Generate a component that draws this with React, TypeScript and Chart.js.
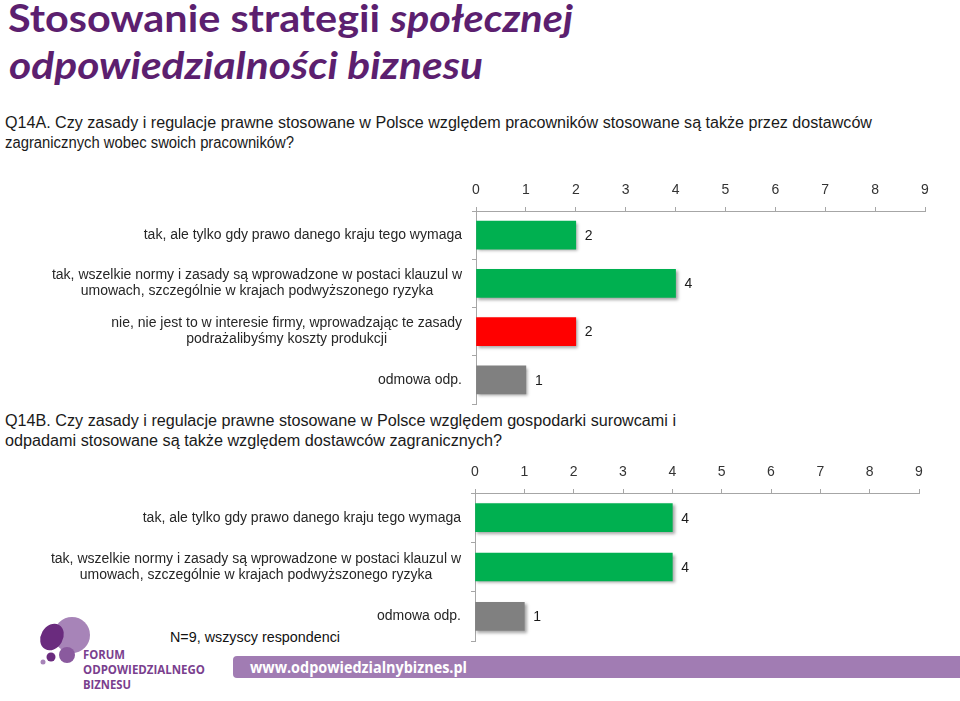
import React, { useEffect, useRef } from "react";
import { Chart, registerables } from "chart.js";

Chart.register(...registerables);

const categoriesA: string[][] = [
  ["tak, ale tylko gdy prawo danego kraju tego wymaga"],
  ["tak, wszelkie normy i zasady są wprowadzone w postaci klauzul w", "umowach, szczególnie w krajach podwyższonego ryzyka"],
  ["nie, nie jest to w interesie firmy, wprowadzając te zasady", "podrażalibyśmy koszty produkcji"],
  ["odmowa odp."],
];
const valuesA = [2, 4, 2, 1];
const colorsA = ["#00B050", "#00B050", "#FF0000", "#808080"];

const categoriesB: string[][] = [
  ["tak, ale tylko gdy prawo danego kraju tego wymaga"],
  ["tak, wszelkie normy i zasady są wprowadzone w postaci klauzul w", "umowach, szczególnie w krajach podwyższonego ryzyka"],
  ["odmowa odp."],
];
const valuesB = [4, 4, 1];
const colorsB = ["#00B050", "#00B050", "#808080"];

const axisMin = 0;
const axisMax = 9;

const FONT = '"Liberation Sans", Arial, sans-serif';
const AXIS_COLOR = "#A6A6A6";

const shadowPlugin = {
  id: "barShadow",
  beforeDatasetsDraw(chart: any) {
    const ctx = chart.ctx;
    ctx.save();
    ctx.shadowColor = "rgba(0,0,0,0.35)";
    ctx.shadowOffsetX = 2;
    ctx.shadowOffsetY = 2;
    ctx.shadowBlur = 3;
  },
  afterDatasetsDraw(chart: any) {
    chart.ctx.restore();
  },
};

const labelPlugin = {
  id: "sideLabels",
  afterDraw(chart: any) {
    const opts = chart.options.plugins.sideLabels || {};
    const ctx = chart.ctx;
    const yScale = chart.scales.y;
    ctx.save();
    ctx.font = `14px ${FONT}`;
    ctx.fillStyle = "#262626";
    ctx.textBaseline = "middle";
    ctx.textAlign = "center";
    (chart.data.labels as any[]).forEach((lab, i) => {
      const lines: string[] = Array.isArray(lab) ? lab : [lab];
      const w = Math.max(...lines.map((l) => ctx.measureText(l).width));
      const cx = opts.right - w / 2;
      const cy = yScale.getPixelForValue(i);
      const lh = 16;
      lines.forEach((l, j) => ctx.fillText(l, cx, cy + (j - (lines.length - 1) / 2) * lh));
    });
    const meta = chart.getDatasetMeta(0);
    ctx.font = `14px ${FONT}`;
    ctx.textAlign = "left";
    ctx.fillStyle = "#1a1a1a";
    meta.data.forEach((bar: any, i: number) => {
      ctx.fillText(String(chart.data.datasets[0].data[i]), bar.x + 9, bar.y + 1);
    });
    ctx.restore();
  },
};

type BarProps = {
  labels: string[][];
  values: number[];
  colors: string[];
  top: number;
  height: number;
  axisTop: number;
  axisLeft: number;
  padRight: number;
  padBottom: number;
  labelRight: number;
};

function BarChart(p: BarProps) {
  const ref = useRef<HTMLCanvasElement | null>(null);
  useEffect(() => {
    if (!ref.current) return;
    const chart = new Chart(ref.current, {
      type: "bar",
      data: {
        labels: p.labels,
        datasets: [
          {
            data: p.values,
            backgroundColor: p.colors,
            borderWidth: 0,
            barThickness: 28,
          },
        ],
      },
      options: {
        indexAxis: "y",
        responsive: false,
        animation: false,
        layout: { padding: { left: 0, right: p.padRight, top: 0, bottom: p.padBottom } },
        plugins: {
          legend: { display: false },
          tooltip: { enabled: false },
          sideLabels: { right: p.labelRight },
        } as any,
        scales: {
          x: {
            position: "top",
            min: axisMin,
            max: axisMax,
            ticks: { stepSize: 1, font: { family: FONT, size: 14 }, color: "#333333", padding: 8 },
            grid: { drawOnChartArea: false, tickLength: 4, color: AXIS_COLOR },
            border: { color: AXIS_COLOR },
            afterFit: (s: any) => {
              s.height = p.axisTop;
            },
          },
          y: {
            ticks: { display: false },
            grid: { drawOnChartArea: false, tickLength: 4, color: AXIS_COLOR, offset: true },
            border: { color: AXIS_COLOR },
            afterFit: (s: any) => {
              s.width = p.axisLeft;
            },
          },
        },
      },
      plugins: [shadowPlugin, labelPlugin],
    });
    return () => chart.destroy();
  }, []);
  return (
    <canvas
      ref={ref}
      width={960}
      height={p.height}
      style={{ position: "absolute", left: 0, top: p.top, width: 960, height: p.height }}
    />
  );
}

export default function App() {
  return (
    <div style={{ position: "absolute", left: 0, top: 0, width: 960, height: 701, background: "#ffffff", overflow: "hidden" }}>
      <svg width={960} height={701} style={{ position: "absolute", left: 0, top: 0 }}>
        <text x={8} y={32} fontFamily="Lato, 'Open Sans', sans-serif" fontWeight={700} fontSize={38} fill="#5C1F6F" textLength={565} lengthAdjust="spacingAndGlyphs">
          Stosowanie strategii <tspan fontStyle="italic">społecznej</tspan>
        </text>
        <text x={9} y={79} fontFamily="Lato, 'Open Sans', sans-serif" fontWeight={700} fontStyle="italic" fontSize={38} fill="#5C1F6F" textLength={474} lengthAdjust="spacingAndGlyphs">
          odpowiedzialności biznesu
        </text>
        <g fontFamily="'Liberation Sans', Arial, sans-serif" fontSize={16} fill="#1a1a1a">
          <text x={5} y={128} textLength={867} lengthAdjust="spacingAndGlyphs">
            Q14A. Czy zasady i regulacje prawne stosowane w Polsce względem pracowników stosowane są także przez dostawców
          </text>
          <text x={5} y={148} textLength={289} lengthAdjust="spacingAndGlyphs">
            zagranicznych wobec swoich pracowników?
          </text>
          <text x={5} y={426} textLength={671} lengthAdjust="spacingAndGlyphs">
            Q14B. Czy zasady i regulacje prawne stosowane w Polsce względem gospodarki surowcami i
          </text>
          <text x={5} y={446} textLength={497} lengthAdjust="spacingAndGlyphs">
            odpadami stosowane są także względem dostawców zagranicznych?
          </text>
        </g>
        <text x={170} y={642} fontFamily="'Liberation Sans', Arial, sans-serif" fontSize={14} fill="#111" textLength={170} lengthAdjust="spacingAndGlyphs">
          N=9, wszyscy respondenci
        </text>
        <rect x={233} y={656} width={740} height={22} rx={4} fill="#A17CB3" />
        <text x={250} y={673} fontFamily="'Open Sans', sans-serif" fontWeight={700} fontSize={16} fill="#ffffff" textLength={217} lengthAdjust="spacingAndGlyphs">
          www.odpowiedzialnybiznes.pl
        </text>
        <g>
          <circle cx={72} cy={635} r={18} fill="#A784B8" />
          <ellipse cx={52} cy={637} rx={11} ry={14} transform="rotate(30 52 637)" fill="#6A2B7E" />
          <circle cx={67} cy={655} r={8} fill="#8A5A9E" />
          <circle cx={51} cy={657} r={4.5} fill="#6A2B7E" />
          <circle cx={43} cy={662} r={2.5} fill="#A784B8" />
        </g>
        <g fontFamily="'Open Sans', sans-serif" fontWeight={700} fontSize={13} fill="#7A3F8E">
          <text x={83} y={659} textLength={42} lengthAdjust="spacingAndGlyphs">FORUM</text>
          <text x={83} y={674} textLength={122} lengthAdjust="spacingAndGlyphs">ODPOWIEDZIALNEGO</text>
          <text x={83} y={689} textLength={48} lengthAdjust="spacingAndGlyphs">BIZNESU</text>
        </g>
      </svg>
      <BarChart
        labels={categoriesA}
        values={valuesA}
        colors={colorsA}
        top={170}
        height={240}
        axisTop={41}
        axisLeft={476}
        padRight={35}
        padBottom={6}
        labelRight={462}
      />
      <BarChart
        labels={categoriesB}
        values={valuesB}
        colors={colorsB}
        top={455}
        height={195}
        axisTop={38}
        axisLeft={475}
        padRight={41}
        padBottom={9}
        labelRight={461}
      />
    </div>
  );
}
